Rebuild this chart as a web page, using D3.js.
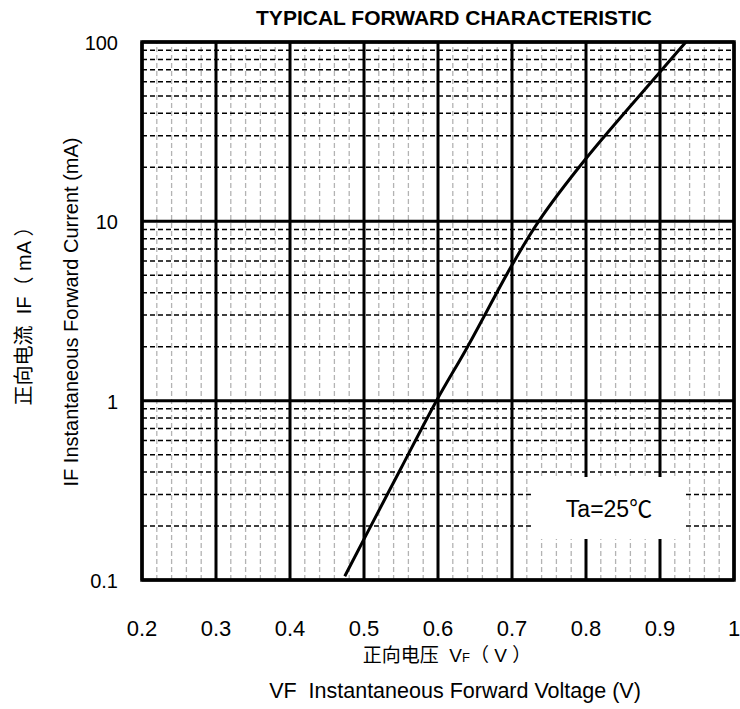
<!DOCTYPE html>
<html>
<head>
<meta charset="utf-8">
<script src="https://cdn.jsdelivr.net/npm/d3@7"></script>
<style>
  body { margin: 0; background: #fff; }
  text { font-family: "Liberation Sans", Arial, "Noto Sans CJK SC", sans-serif; fill: #000; white-space: pre; }
</style>
</head>
<body>
<div id="chart"></div>
<script>
// curve: forward voltage (V) vs forward current (mA)
const voltage = [0.474, 0.500, 0.550, 0.598, 0.640, 0.700, 0.736, 0.800, 0.900, 0.935];
const current = [0.105, 0.169, 0.42, 1.0, 2.0, 5.7, 10, 22.4, 68, 100];

const xTicks = [0.2, 0.3, 0.4, 0.5, 0.6, 0.7, 0.8, 0.9, 1];
const yTicks = [0.1, 1, 10, 100];
const yTickLabels = ["0.1", "1", "10", "100"];

const width = 740, height = 709;
const margin = {top: 42, right: 6, bottom: 129, left: 142};

const svg = d3.select("#chart").append("svg")
    .attr("width", width)
    .attr("height", height);

const x = d3.scaleLinear()
    .domain([0.2, 1])
    .range([margin.left, width - margin.right]);

const y = d3.scaleLog()
    .domain([0.1, 100])
    .range([height - margin.bottom, margin.top]);

// minor verticals every 0.02 V (light grey dashed)
const xMinor = d3.range(0.2, 1.0001, 0.02).filter(v => Math.abs(Math.round(v * 10) - v * 10) > 1e-6);
svg.append("g").selectAll("line")
    .data(xMinor)
    .join("line")
    .attr("x1", d => x(d)).attr("x2", d => x(d))
    .attr("y1", y(0.1)).attr("y2", y(100))
    .attr("stroke", "#b3b3b3")
    .attr("stroke-width", 1.3)
    .attr("stroke-dasharray", "5,3");

// minor horizontals 2..9 per decade (black dashed)
const yMinor = [];
[0.1, 1, 10].forEach(dec => { for (let k = 2; k <= 9; k++) yMinor.push(dec * k); });
svg.append("g").selectAll("line")
    .data(yMinor)
    .join("line")
    .attr("x1", x(0.2)).attr("x2", x(1))
    .attr("y1", d => y(d)).attr("y2", d => y(d))
    .attr("stroke", "#000")
    .attr("stroke-width", 1.5)
    .attr("stroke-dasharray", "5,3");

// major grid
svg.append("g").selectAll("line")
    .data(xTicks)
    .join("line")
    .attr("x1", d => x(d)).attr("x2", d => x(d))
    .attr("y1", y(0.1)).attr("y2", y(100))
    .attr("stroke", "#000")
    .attr("stroke-width", 3);

svg.append("g").selectAll("line")
    .data(yTicks)
    .join("line")
    .attr("x1", x(0.2)).attr("x2", x(1))
    .attr("y1", d => y(d)).attr("y2", d => y(d))
    .attr("stroke", "#000")
    .attr("stroke-width", 3);

// label box that hides the grid
const boxX0 = 533, boxX1 = 685, boxY0 = 477, boxY1 = 539;
svg.append("rect")
    .attr("x", boxX0).attr("y", boxY0)
    .attr("width", boxX1 - boxX0).attr("height", boxY1 - boxY0)
    .attr("fill", "#fff");
svg.append("text")
    .attr("x", 609)
    .attr("y", 517)
    .attr("text-anchor", "middle")
    .attr("font-size", 23)
    .text("Ta=25℃");

// curve
const points = voltage.map((v, i) => [v, current[i]]);
const line = d3.line()
    .x(d => x(d[0]))
    .y(d => y(d[1]))
    .curve(d3.curveCatmullRom.alpha(0.5));
svg.append("path")
    .datum(points)
    .attr("d", line)
    .attr("fill", "none")
    .attr("stroke", "#000")
    .attr("stroke-width", 3);

// frame
svg.append("rect")
    .attr("x", x(0.2)).attr("y", y(100))
    .attr("width", x(1) - x(0.2)).attr("height", y(0.1) - y(100))
    .attr("fill", "none")
    .attr("stroke", "#000")
    .attr("stroke-width", 3.5);

// tick labels
svg.append("g").selectAll("text")
    .data(xTicks)
    .join("text")
    .attr("x", d => x(d))
    .attr("y", 636)
    .attr("text-anchor", "middle")
    .attr("font-size", 22)
    .text(d => d3.format("")(d));

svg.append("g").selectAll("text")
    .data(yTicks)
    .join("text")
    .attr("x", 118)
    .attr("y", d => y(d) + 8)
    .attr("text-anchor", "end")
    .attr("font-size", 20)
    .text((d, i) => yTickLabels[i]);

// title
svg.append("text")
    .attr("x", 454).attr("y", 25)
    .attr("text-anchor", "middle")
    .attr("font-size", 21)
    .attr("font-weight", "bold")
    .text("TYPICAL FORWARD CHARACTERISTIC");

// x axis titles
const xt = svg.append("text")
    .attr("x", 447).attr("y", 662)
    .attr("text-anchor", "middle")
    .attr("font-size", 19);
xt.append("tspan").text("正向电压  V");
xt.append("tspan").attr("font-size", 13).text("F");
xt.append("tspan").text("（ V ）");

svg.append("text")
    .attr("x", 455).attr("y", 698)
    .attr("text-anchor", "middle")
    .attr("font-size", 21.5)
    .text("VF  Instantaneous Forward Voltage (V)");

// y axis titles
svg.append("text")
    .attr("transform", "translate(31,311) rotate(-90)")
    .attr("text-anchor", "middle")
    .attr("font-size", 20)
    .text("正向电流  IF（ mA ）");

svg.append("text")
    .attr("transform", "translate(78,312) rotate(-90)")
    .attr("text-anchor", "middle")
    .attr("font-size", 20)
    .text("IF Instantaneous Forward Current (mA)");
</script>
</body>
</html>
